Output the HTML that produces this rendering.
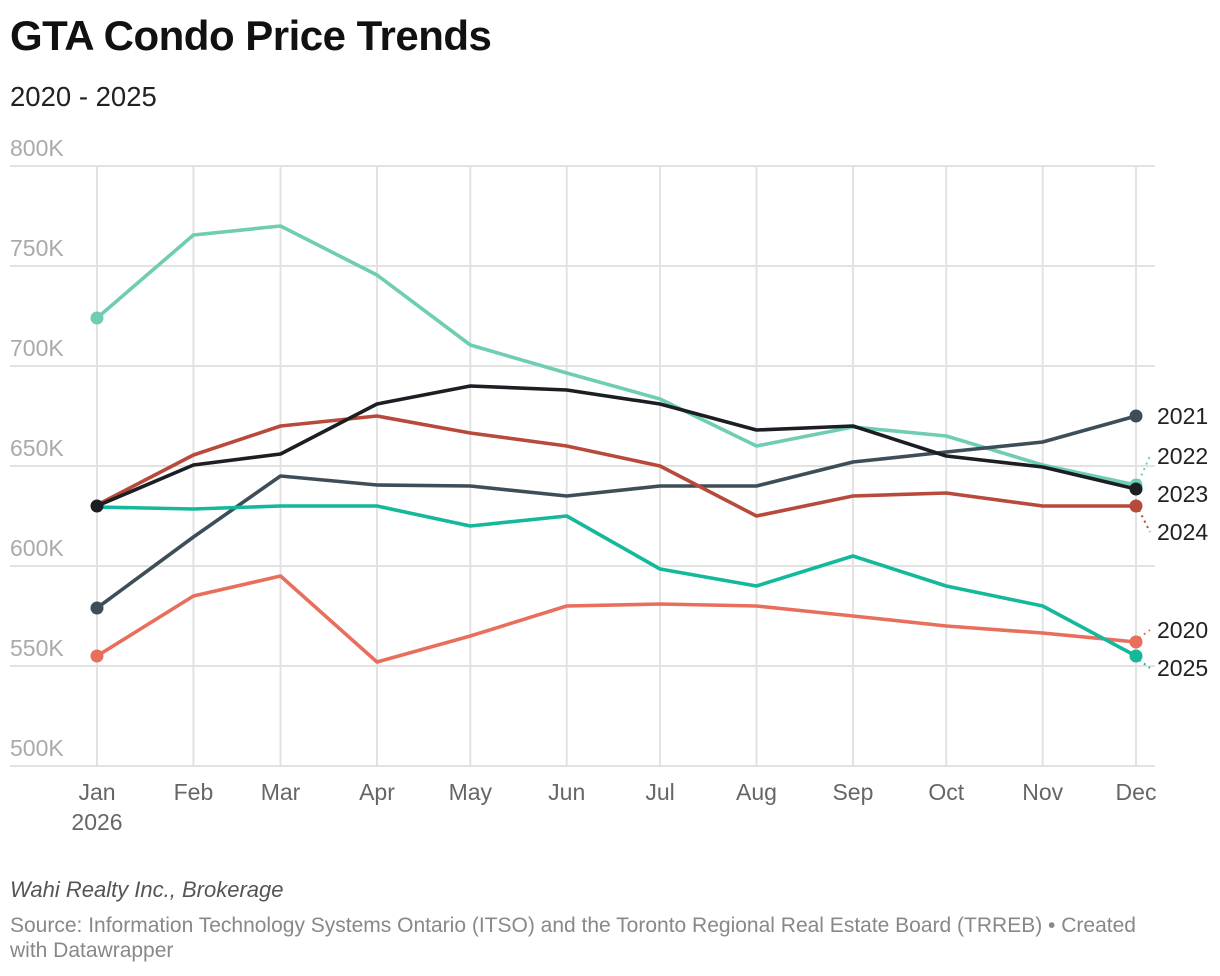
<!DOCTYPE html>
<html><head><meta charset="utf-8"><style>
body{margin:0;background:#fff;font-family:"Liberation Sans",sans-serif;}
#wrap{position:relative;width:1220px;height:976px;overflow:hidden}
.t{position:absolute;left:10px;margin:0;white-space:nowrap}
</style></head><body>
<div id="wrap">
<h1 class="t" style="top:12px;font-size:42px;font-weight:bold;color:#111;letter-spacing:-0.5px">GTA Condo Price Trends</h1>
<div class="t" style="top:81px;font-size:27.5px;color:#222">2020 - 2025</div>
<svg id="chart" width="1220" height="860" style="position:absolute;left:0;top:0"></svg>
<div class="t" style="top:877px;font-size:22px;font-style:italic;color:#555">Wahi Realty Inc., Brokerage</div>
<div class="t" style="top:913px;font-size:21px;color:#888;line-height:25px;white-space:normal;width:1150px">Source: Information Technology Systems Ontario (ITSO) and the Toronto Regional Real Estate Board (TRREB) • Created with Datawrapper</div>
</div>
<script>
const months=["Jan","Feb","Mar","Apr","May","Jun","Jul","Aug","Sep","Oct","Nov","Dec"];
const monthDays=[0,31,59,90,120,151,181,212,243,273,304,334];
const yTicks=[500,550,600,650,700,750,800];
const s2020=[555,585,595,552,565,580,581,580,575,570,566.5,562];
const s2021=[579,614.5,645,640.5,640,635,640,640,652,657,662,675];
const s2022=[724,765.5,770,745.5,710.5,696.5,683.5,660,669.5,665,650.5,640.5];
const s2023=[630,650.5,656,681,690,688,681,668,670,655,649.5,638.5];
const s2024=[630.5,655.5,670,675,666.5,660,650,625,635,636.5,630,630];
const s2025=[629.5,628.5,630,630,620,625,598.5,590,605,590,580,555];
const series=[
 {name:"2022",data:s2022,color:"#6fcdb3",startDot:true,label:[1157,464]},
 {name:"2021",data:s2021,color:"#3e4e59",startDot:true,label:[1157,424]},
 {name:"2024",data:s2024,color:"#b84a3c",startDot:false,label:[1157,540]},
 {name:"2020",data:s2020,color:"#e96f5d",startDot:true,label:[1157,638]},
 {name:"2025",data:s2025,color:"#14b89a",startDot:false,label:[1157,676]},
 {name:"2023",data:s2023,color:"#1b1f23",startDot:true,label:[1157,502]}
];
const NS="http://www.w3.org/2000/svg";
const svg=document.getElementById("chart");
const x=d=>97+d/334*1039;
const y=v=>166+(800-v)*2;
function mk(t,a,p){const e=document.createElementNS(NS,t);for(const k in a)e.setAttribute(k,a[k]);(p||svg).appendChild(e);return e;}
const grid=mk("g",{});


yTicks.forEach(v=>{
 const l=mk("line",{x1:10,x2:1155,y1:y(v),y2:y(v),stroke:"#e2e2e2","stroke-width":2},grid);
 
 
 const t=mk("text",{x:10,y:y(v)-10,"font-size":23,fill:"#aaa"});
 t.textContent=v+"K";
 
 
});
months.forEach((m,i)=>{
 const xx=x(monthDays[i]);
 const l=mk("line",{x1:xx,x2:xx,y1:166,y2:766,stroke:"#e2e2e2","stroke-width":2},grid);
 
 
 const t=mk("text",{x:xx,y:800,"font-size":23,fill:"#666","text-anchor":"middle"});
 t.textContent=m;
 
 
});
const yr=mk("text",{x:x(0),y:830,"font-size":23,fill:"#666","text-anchor":"middle"});
yr.textContent="2026";


series.forEach(s=>{
 const g=mk("g",{});
 
 
 const pts=s.data.map((v,i)=>x(monthDays[i])+","+y(v)).join(" ");
 const pl=mk("polyline",{points:pts,fill:"none",stroke:s.color,"stroke-width":3.6,"stroke-linejoin":"round"},g);
 
 
 const ex=x(monthDays[11]),ey=y(s.data[11]);
 if(s.startDot){
  const c=mk("circle",{cx:x(0),cy:y(s.data[0]),r:6.5,fill:s.color},g);
  
  
 }
 const c2=mk("circle",{cx:ex,cy:ey,r:6.5,fill:s.color},g);
 
 
 const ly=s.label[1]-8;
 if(Math.abs(ly-ey)>8){
  const dl=mk("line",{x1:ex+3,y1:ey+(ly>ey?4:-4),x2:1150,y2:ly,stroke:s.color,"stroke-width":2,"stroke-dasharray":"2,4"},g);
  
  
 }
 const t=mk("text",{x:s.label[0],y:s.label[1],"font-size":23,fill:"#222"},g);
 t.textContent=s.name;
 
 
});
</script>
</body></html>
